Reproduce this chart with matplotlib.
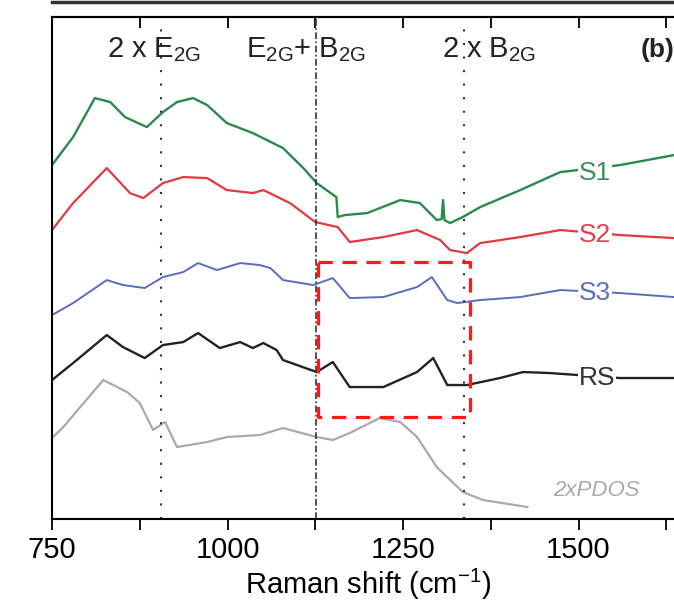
import numpy as np
import matplotlib
matplotlib.use("Agg")
from matplotlib import pyplot as plt
from matplotlib.lines import Line2D

plt.rcParams['font.family'] = ['Liberation Sans', 'DejaVu Sans']

# Raman shift (cm-1) and intensity (arb. units, offset)
s1_x = [750, 780, 811, 833, 854, 885, 908, 928, 951, 971, 999, 1036, 1079, 1108,
        1127, 1155, 1157, 1167, 1199, 1246, 1274, 1298, 1305, 1307, 1309, 1317,
        1335, 1360, 1417, 1474, 1559, 1636]
s1_y = [354, 382, 421, 417, 402, 392, 407, 417, 421, 414, 396, 386, 371, 351,
        336, 322, 302, 304, 306, 319, 316, 299, 300, 319, 299, 296,
        302, 312, 329, 347, 354, 364]

s2_x = [750, 780, 828, 861, 880, 908, 937, 971, 999, 1036, 1051, 1089, 1125, 1157,
        1174, 1222, 1270, 1303, 1317, 1341, 1360, 1417, 1474, 1559, 1636]
s2_y = [289, 316, 351, 326, 321, 336, 342, 341, 329, 326, 329, 316, 297, 292,
        277, 282, 289, 279, 269, 266, 276, 282, 289, 284, 281]

s3_x = [750, 780, 828, 851, 882, 908, 937, 958, 985, 1018, 1046, 1061, 1079, 1122,
        1150, 1174, 1222, 1270, 1291, 1313, 1327, 1360, 1417, 1474, 1559, 1636]
s3_y = [204, 216, 239, 234, 231, 242, 247, 256, 249, 256, 254, 251, 239, 234,
        241, 221, 222, 232, 242, 219, 216, 219, 222, 229, 226, 222]

rs_x = [750, 780, 828, 851, 882, 908, 937, 958, 989, 1018, 1036, 1051, 1070, 1079,
        1127, 1150, 1174, 1222, 1270, 1293, 1313, 1341, 1388, 1421, 1459, 1559, 1636]
rs_y = [139, 156, 184, 172, 161, 174, 177, 186, 171, 177, 171, 176, 169, 159,
        147, 157, 132, 132, 147, 161, 134, 134, 141, 147, 146, 141, 141]

pdos_x = [750, 766, 823, 857, 875, 894, 911, 928, 971, 999, 1046, 1079, 1127, 1150,
          1174, 1217, 1246, 1270, 1298, 1335, 1364, 1427]
pdos_y = [81, 92, 139, 127, 116, 89, 97, 72, 77, 82, 84, 91, 82, 79,
          86, 101, 97, 82, 52, 27, 19, 12]

modes = [905, 1126, 1337]
box_x = [1129, 1345]
box_y = [102, 257]

fig = plt.figure(figsize=(6.74, 6.04), dpi=100)
ax = fig.add_axes([0.0772, 0.1407, 0.9374, 0.831])

ax.plot(pdos_x, pdos_y, color='#aaaaaa', lw=1.6)
ax.plot(rs_x, rs_y, color='#222222', lw=1.7)
ax.plot(s3_x, s3_y, color='#5a6cbc', lw=1.4)
ax.plot(s2_x, s2_y, color='#e0393f', lw=1.6)
ax.plot(s1_x, s1_y, color='#2a8a4c', lw=1.7)

ax.axvline(modes[0], color='#333333', lw=1.5, ls=(0, (1, 5.5)))
ax.axvline(modes[1], color='#333333', lw=1.2, ls=(0, (4, 1.5, 1, 1.5)))
ax.axvline(modes[2], color='#333333', lw=1.5, ls=(0, (1, 5.5)))

ax.plot([box_x[0], box_x[1], box_x[1], box_x[0], box_x[0]],
        [box_y[1], box_y[1], box_y[0], box_y[0], box_y[1]],
        color='#ff1a1a', lw=2.3, ls=(0, (4.5, 3)))

lab = dict(fontsize=19, ha='center', va='center',
           bbox=dict(facecolor='white', edgecolor='none', pad=0.5))
ax.text(1523, 346, 'S1', color='#3a9060', **lab)
ax.text(1523, 284, 'S2', color='#e04050', **lab)
ax.text(1523, 226, 'S3', color='#5a70c0', **lab)
ax.text(1526, 141, 'RS', color='#333333', **lab)
ax.text(1525, 29, '2xPDOS', color='#aaaaaa', fontsize=16, style='italic',
        ha='center', va='center')

top = dict(fontsize=21, color='#222222', va='baseline')
ax.text(828, 462, r'2 x E$_\mathregular{2G}$', **top)
ax.text(1027, 462, r'E$_\mathregular{2G}$+ B$_\mathregular{2G}$', **top)
ax.text(1306, 462, r'2 x B$_\mathregular{2G}$', **top)
ax.text(1636, 462, '(b)', fontsize=19, fontweight='bold', ha='right',
        va='baseline', color='#222222')

ax.set_xlim(750, 1650)
ax.set_ylim(0, 502)
ax.set_xticks([750, 1000, 1250, 1500])
ax.set_xticks([875, 1125, 1375, 1625], minor=True)
ax.set_yticks([])
ax.tick_params(axis='x', which='both', direction='out', length=8, width=1.3,
               labelsize=21, pad=4)
ax.set_xlabel('Raman shift (cm$^{\\mathregular{-1}}$)', fontsize=21, labelpad=2)

sec = ax.secondary_xaxis('top')
sec.set_xticks([875, 1000, 1125, 1250, 1375, 1500, 1625])
sec.tick_params(direction='in', length=8, width=1.3, labeltop=False)
sec.spines['top'].set_linewidth(1.5)
for s in ax.spines.values():
    s.set_linewidth(1.5)

# bottom edge of the panel above
fig.add_artist(Line2D([0.0772, 1.0], [0.997, 0.997], color='#333333', lw=2.5))

fig.savefig('out.png', dpi=100)
